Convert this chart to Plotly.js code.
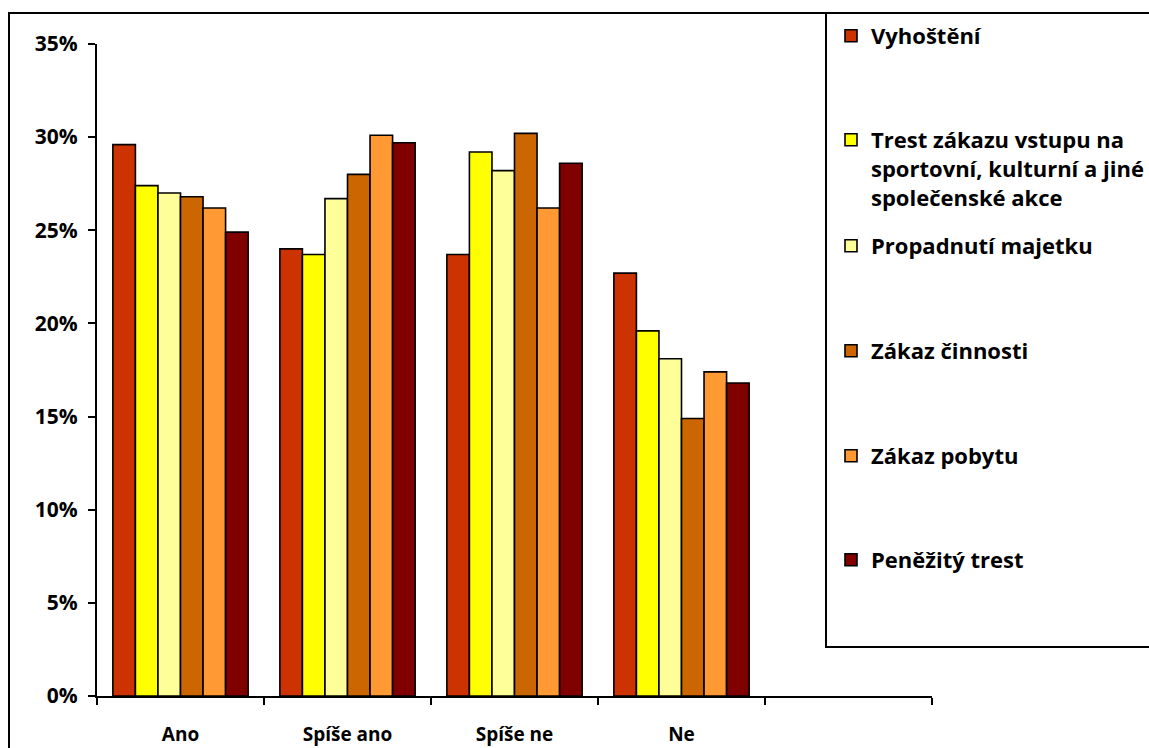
<!DOCTYPE html>
<html>
<head>
<meta charset="utf-8">
<script src="https://cdn.plot.ly/plotly-3.0.1.min.js"></script>
<style>html,body{margin:0;padding:0;background:#fff;}#chart{width:1149px;height:748px;}</style>
</head>
<body>
<div id="chart"></div>
<script>
// ---- data ----
const categories = ['Ano', 'Spíše ano', 'Spíše ne', 'Ne'];
const seriesNames = [
  'Vyhoštění',
  'Trest zákazu vstupu na<br>sportovní, kulturní a jiné<br>společenské akce',
  'Propadnutí majetku',
  'Zákaz činnosti',
  'Zákaz pobytu',
  'Peněžitý trest'
];
const vyhosteni     = [29.6, 24.0, 23.7, 22.7];
const trestZakazu   = [27.4, 23.7, 29.2, 19.6];
const propadnuti    = [27.0, 26.7, 28.2, 18.1];
const zakazCinnosti = [26.8, 28.0, 30.2, 14.9];
const zakazPobytu   = [26.2, 30.1, 26.2, 17.4];
const penezity      = [24.9, 29.7, 28.6, 16.8];
const yTickVals   = [0, 5, 10, 15, 20, 25, 30, 35];
const yTickLabels = ['0%', '5%', '10%', '15%', '20%', '25%', '30%', '35%'];

// ---- styles ----
const seriesValues = [vyhosteni, trestZakazu, propadnuti, zakazCinnosti, zakazPobytu, penezity];
const colors = ['#CC3300', '#FFFF00', '#FFFF99', '#CC6600', '#FF9933', '#800000'];
const FONT = 'Open Sans, Liberation Sans, sans-serif';

// plot area in pixels (for placing decorations)
const W = 1149, H = 748, L = 97, R = 217, T = 44, B = 52;
const pw = W - L - R, ph = H - T - B;
const px2x = p => (p - L) / pw;
const py2y = p => (H - B - p) / ph;

const legendNames = ['legend', 'legend2', 'legend3', 'legend4', 'legend5', 'legend6'];
const legendCenters = [37, 141, 247, 352, 457, 561];

const traces = seriesValues.map((vals, i) => ({
  type: 'bar',
  x: categories,
  y: vals,
  name: seriesNames[i],
  legend: legendNames[i],
  marker: { color: colors[i], line: { color: '#000', width: 1.6 } },
  hoverinfo: 'x+y+name'
}));

const layout = {
  width: W, height: H,
  margin: { l: L, r: R, t: T, b: B, autoexpand: false },
  paper_bgcolor: '#fff',
  plot_bgcolor: '#fff',
  barmode: 'group',
  bargap: 0.19,
  bargroupgap: 0,
  font: { family: FONT, color: '#000' },
  xaxis: {
    type: 'category',
    categoryorder: 'array',
    categoryarray: categories.concat([' ']),
    range: [-0.5, 4.5],
    tickson: 'boundaries',
    ticks: 'outside', ticklen: 7, tickwidth: 2, tickcolor: '#000',
    showline: true, linecolor: '#000', linewidth: 2,
    showgrid: false, zeroline: false,
    tickfont: { family: FONT, size: 19, weight: 700, color: '#000' },
    ticklabelstandoff: 20,
    fixedrange: true
  },
  yaxis: {
    range: [0, 35],
    tickmode: 'array',
    tickvals: yTickVals,
    ticktext: yTickLabels,
    ticks: 'outside', ticklen: 7, tickwidth: 2, tickcolor: '#000',
    showline: true, linecolor: '#000', linewidth: 2,
    showgrid: false, zeroline: false,
    tickfont: { family: FONT, size: 21, weight: 700, color: '#000' },
    ticklabelstandoff: 6,
    fixedrange: true
  },
  shapes: [
    { type: 'rect', xref: 'paper', yref: 'paper',
      x0: px2x(9), x1: 1.5, y0: -0.3, y1: py2y(13),
      line: { color: '#000', width: 2 }, fillcolor: 'rgba(0,0,0,0)', layer: 'below' },
    { type: 'rect', xref: 'paper', yref: 'paper',
      x0: px2x(826), x1: 1.5, y0: py2y(647), y1: py2y(13),
      line: { color: '#000', width: 2 }, fillcolor: 'rgba(0,0,0,0)', layer: 'below' }
  ],
  showlegend: true
};

legendNames.forEach((ln, i) => {
  layout[ln] = {
    x: px2x(831), xanchor: 'left',
    y: py2y(legendCenters[i] - 22), yanchor: 'top',
    bgcolor: 'rgba(0,0,0,0)', borderwidth: 0,
    valign: 'top',
    font: { family: FONT, size: 22, weight: 700, color: '#000' },
    itemclick: false, itemdoubleclick: false
  };
});

Plotly.newPlot('chart', traces, layout, { displayModeBar: false, staticPlot: true });
</script>
</body>
</html>
